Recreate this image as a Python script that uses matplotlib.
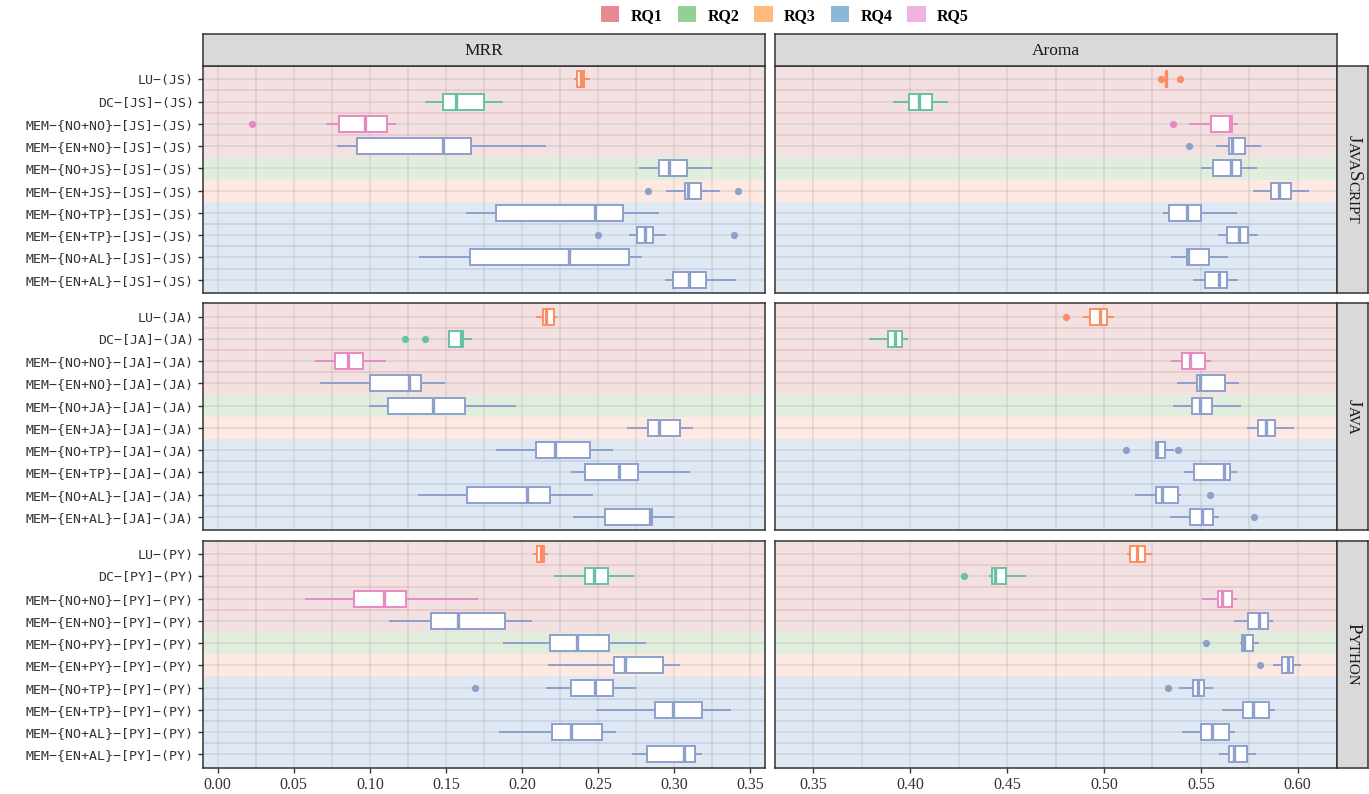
import numpy as np
import matplotlib.pyplot as plt
from matplotlib.patches import Patch
from matplotlib.transforms import IdentityTransform

# rows of every panel: (whisker low, q1, median, q3, whisker high)
langs = ["JS", "JA", "PY"]
lang_names = [[("J", 1), ("AVA", 0), ("S", 1), ("CRIPT", 0)],
              [("J", 1), ("AVA", 0)],
              [("P", 1), ("YTHON", 0)]]
metrics = ["MRR", "Aroma"]

mrr_js = [(0.2345, 0.2359, 0.2385, 0.2407, 0.2441),
          (0.1369, 0.1481, 0.1564, 0.1752, 0.1870),
          (0.0720, 0.0799, 0.0968, 0.1112, 0.1165),
          (0.0788, 0.0917, 0.1482, 0.1662, 0.2150),
          (0.2777, 0.2900, 0.2967, 0.3081, 0.3243),
          (0.2954, 0.3070, 0.3092, 0.3175, 0.3296),
          (0.1636, 0.1826, 0.2479, 0.2665, 0.2891),
          (0.2707, 0.2757, 0.2805, 0.2862, 0.2941),
          (0.1331, 0.1658, 0.2308, 0.2702, 0.2783),
          (0.2943, 0.2993, 0.3099, 0.3210, 0.3397)]
mrr_js_out = [[], [], [0.0227], [], [], [0.2829, 0.3416], [], [0.2497, 0.3394], [], []]

aroma_js = [(0.5318, 0.5319, 0.5322, 0.5325, 0.5326),
            (0.3916, 0.3995, 0.4043, 0.4113, 0.4189),
            (0.5442, 0.5552, 0.5648, 0.5660, 0.5684),
            (0.5581, 0.5646, 0.5660, 0.5729, 0.5805),
            (0.5505, 0.5565, 0.5653, 0.5705, 0.5786),
            (0.5772, 0.5863, 0.5905, 0.5967, 0.6054),
            (0.5311, 0.5337, 0.5428, 0.5502, 0.5681),
            (0.5595, 0.5634, 0.5698, 0.5743, 0.5791),
            (0.5349, 0.5428, 0.5435, 0.5543, 0.5633),
            (0.5464, 0.5521, 0.5596, 0.5634, 0.5689)]
aroma_js_out = [[0.5295, 0.5393], [], [0.5356], [0.5438], [], [], [], [], [], []]

mrr_ja = [(0.2096, 0.2137, 0.2159, 0.2212, 0.2223),
          (0.1520, 0.1520, 0.1597, 0.1614, 0.1664),
          (0.0648, 0.0771, 0.0858, 0.0953, 0.1099),
          (0.0681, 0.1001, 0.1259, 0.1336, 0.1489),
          (0.1001, 0.1119, 0.1417, 0.1625, 0.1951),
          (0.2698, 0.2829, 0.2901, 0.3037, 0.3114),
          (0.1833, 0.2091, 0.2214, 0.2448, 0.2589),
          (0.2330, 0.2411, 0.2635, 0.2762, 0.3095),
          (0.1323, 0.1636, 0.2030, 0.2185, 0.2459),
          (0.2343, 0.2547, 0.2842, 0.2853, 0.2989)]
mrr_ja_out = [[], [0.1231, 0.1362], [], [], [], [], [], [], [], []]

aroma_ja = [(0.4898, 0.4929, 0.4980, 0.5013, 0.5046),
            (0.3790, 0.3883, 0.3922, 0.3960, 0.3983),
            (0.5351, 0.5402, 0.5442, 0.5522, 0.5548),
            (0.5380, 0.5480, 0.5498, 0.5622, 0.5694),
            (0.5363, 0.5454, 0.5495, 0.5560, 0.5703),
            (0.5743, 0.5795, 0.5837, 0.5884, 0.5978),
            (0.5266, 0.5268, 0.5273, 0.5316, 0.5356),
            (0.5418, 0.5467, 0.5617, 0.5648, 0.5681),
            (0.5167, 0.5270, 0.5299, 0.5380, 0.5393),
            (0.5345, 0.5442, 0.5505, 0.5564, 0.5586)]
aroma_ja_out = [[0.4805], [], [], [], [], [], [0.5116, 0.5383], [], [0.5547], [0.5774]]

mrr_py = [(0.2080, 0.2100, 0.2122, 0.2146, 0.2166),
          (0.2218, 0.2415, 0.2472, 0.2564, 0.2727),
          (0.0580, 0.0896, 0.1091, 0.1239, 0.1702),
          (0.1132, 0.1399, 0.1579, 0.1886, 0.2056),
          (0.1883, 0.2185, 0.2359, 0.2573, 0.2805),
          (0.2179, 0.2606, 0.2678, 0.2928, 0.3033),
          (0.2166, 0.2319, 0.2477, 0.2599, 0.2742),
          (0.2494, 0.2873, 0.2990, 0.3182, 0.3368),
          (0.1853, 0.2198, 0.2321, 0.2523, 0.2608),
          (0.2729, 0.2823, 0.3062, 0.3138, 0.3175)]
mrr_py_out = [[], [], [], [], [], [], [0.1691], [], [], []]

aroma_py = [(0.5125, 0.5133, 0.5170, 0.5213, 0.5245),
            (0.4413, 0.4423, 0.4440, 0.4492, 0.4592),
            (0.5509, 0.5590, 0.5610, 0.5663, 0.5679),
            (0.5677, 0.5742, 0.5801, 0.5846, 0.5866),
            (0.5706, 0.5710, 0.5722, 0.5771, 0.5797),
            (0.5876, 0.5919, 0.5949, 0.5978, 0.6014),
            (0.5391, 0.5460, 0.5485, 0.5515, 0.5556),
            (0.5616, 0.5720, 0.5771, 0.5854, 0.5876),
            (0.5407, 0.5501, 0.5558, 0.5647, 0.5673),
            (0.5600, 0.5643, 0.5673, 0.5736, 0.5777)]
aroma_py_out = [[], [0.4279], [], [], [0.5525], [0.5805], [0.5328], [], [], []]

panels = [[(mrr_js, mrr_js_out), (aroma_js, aroma_js_out)],
          [(mrr_ja, mrr_ja_out), (aroma_ja, aroma_ja_out)],
          [(mrr_py, mrr_py_out), (aroma_py, aroma_py_out)]]

rq_names = ["RQ1", "RQ2", "RQ3", "RQ4", "RQ5"]
rq_colors = ["#e8898f", "#94d095", "#fdbb7d", "#8bb7d9", "#efb3de"]
row_rq = ["RQ1"] * 4 + ["RQ2", "RQ3"] + ["RQ4"] * 4
band_fill = {"RQ1": "#f3e0e1", "RQ2": "#e1eedd", "RQ3": "#fde9e1", "RQ4": "#dfe8f3"}
band_line = {"RQ1": "#e8c4c7", "RQ4": "#c0d1e7"}
box_colors = ["#fc8d62", "#66c2a5", "#e78ac3"] + ["#8da0cb"] * 7


def row_labels(l):
    return [f"LU−({l})", f"DC−[{l}]−({l})",
            f"MEM−{{NO+NO}}−[{l}]−({l})", f"MEM−{{EN+NO}}−[{l}]−({l})",
            f"MEM−{{NO+{l}}}−[{l}]−({l})", f"MEM−{{EN+{l}}}−[{l}]−({l})",
            f"MEM−{{NO+TP}}−[{l}]−({l})", f"MEM−{{EN+TP}}−[{l}]−({l})",
            f"MEM−{{NO+AL}}−[{l}]−({l})", f"MEM−{{EN+AL}}−[{l}]−({l})"]


W, H = 1369, 794
fig = plt.figure(figsize=(W / 100, H / 100), dpi=100)
serif = "Liberation Serif"


def px_axes(x, y, w, h):
    return fig.add_axes([x / W, 1 - (y + h) / H, w / W, h / H])


col_x = [202.7, 774.6]
col_w = [562.3, 561.9]
row_y = [66, 303.3, 540.7]
row_h = 227
xlims = [(-0.0098, 0.3596), (0.33, 0.62)]
majors = [np.arange(0, 0.351, 0.05), np.arange(0.35, 0.601, 0.05)]
minors = [np.arange(0.025, 0.36, 0.05), np.arange(0.375, 0.62, 0.05)]

for r in range(3):
    for c in range(2):
        ax = px_axes(col_x[c], row_y[r], col_w[c], row_h)
        stats, outs = panels[r][c]
        n = len(stats)
        ax.set_xlim(*xlims[c])
        ax.set_ylim(n - 0.4, -0.6)
        # background bands per row
        for i in range(n):
            ax.axhspan(i - 0.5, i + 0.5, color=band_fill[row_rq[i]], lw=0, zorder=0)
        ax.axhspan(n - 0.5, n - 0.4, color=band_fill[row_rq[-1]], lw=0, zorder=0)
        ax.axhspan(-0.6, -0.5, color=band_fill[row_rq[0]], lw=0, zorder=0)
        for i in range(n - 1):
            if row_rq[i] == row_rq[i + 1]:
                ax.axhline(i + 0.5, color=band_line[row_rq[i]], lw=1.1, zorder=0.5)
        # grid
        for v in list(majors[c]) + list(minors[c]):
            ax.axvline(v, color="#9a9a9a", alpha=0.25, lw=1.1, zorder=1)
        for i in range(n):
            ax.axhline(i, color="#9a9a9a", alpha=0.25, lw=1.1, zorder=1)
        # boxes
        for i in range(n):
            lo, q1, med, q3, hi = stats[i]
            col = box_colors[i]
            st = [dict(whislo=lo, q1=q1, med=med, q3=q3, whishi=hi, fliers=outs[i])]
            ax.bxp(st, positions=[i], widths=0.72, orientation="horizontal",
                   showcaps=False, patch_artist=True, manage_ticks=False,
                   boxprops=dict(facecolor="white", edgecolor=col, lw=1.4),
                   whiskerprops=dict(color=col, lw=1.4),
                   medianprops=dict(color=col, lw=2.4),
                   flierprops=dict(marker="o", markersize=5.2, markerfacecolor=col,
                                   markeredgecolor="none"),
                   zorder=3)
        for s in ax.spines.values():
            s.set_color("#333333")
            s.set_linewidth(1.1)
        ax.set_yticks(range(n))
        ax.set_xticks(majors[c])
        if c == 0:
            ax.set_yticklabels(row_labels(langs[r]), family="DejaVu Sans Mono",
                               fontsize=9.5, color="#333333")
            ax.tick_params(axis="y", length=3.5, width=1, color="#333333", pad=3)
        else:
            ax.tick_params(axis="y", left=False, labelleft=False)
        if r == 2:
            ax.set_xticklabels([f"{v:.2f}" for v in majors[c]], family=serif,
                               fontsize=11.5, color="#333333")
            ax.tick_params(axis="x", length=3.5, width=1, color="#333333", pad=3)
        else:
            ax.tick_params(axis="x", bottom=False, labelbottom=False)

# top strips
for c in range(2):
    sax = px_axes(col_x[c], 34, col_w[c], 32)
    sax.set_facecolor("#d9d9d9")
    sax.set_xticks([])
    sax.set_yticks([])
    for s in sax.spines.values():
        s.set_color("#333333")
        s.set_linewidth(1.1)
    sax.text(0.5, 0.47, metrics[c], ha="center", va="center", family=serif,
             fontsize=12.5, color="#1a1a1a", transform=sax.transAxes)

# right strips with small-caps language names
renderer = fig.canvas.get_renderer()
big, small = 13.5, 10.8
for r in range(3):
    sax = px_axes(1337, row_y[r], 31, row_h)
    sax.set_facecolor("#d9d9d9")
    sax.set_xticks([])
    sax.set_yticks([])
    for s in sax.spines.values():
        s.set_color("#333333")
        s.set_linewidth(1.1)
    parts = lang_names[r]
    widths = []
    for txt, is_big in parts:
        t = fig.text(0, 0, txt, family=serif, fontsize=big if is_big else small)
        widths.append(t.get_window_extent(renderer).width)
        t.remove()
    cy = H - (row_y[r] + row_h / 2)
    y = cy + sum(widths) / 2
    bx = 1352.5 - 0.33 * big * 100 / 72 * 0.66
    for (txt, is_big), w in zip(parts, widths):
        fig.text(bx, y, txt, family=serif, fontsize=big if is_big else small,
                 rotation=-90, rotation_mode="anchor", ha="left", va="baseline",
                 color="#1a1a1a", transform=IdentityTransform())
        y -= w

# legend
handles = [Patch(facecolor=rq_colors[i], edgecolor="none", label=rq_names[i])
           for i in range(5)]
fig.legend(handles=handles, loc="center", bbox_to_anchor=(785 / W, 1 - 15 / H),
           ncol=5, frameon=False, handlelength=1.15, handleheight=1.15,
           handletextpad=0.7, columnspacing=0.95, borderpad=0.2,
           prop=dict(family=serif, weight="bold", size=11.5))

fig.savefig("out.png", dpi=100)
